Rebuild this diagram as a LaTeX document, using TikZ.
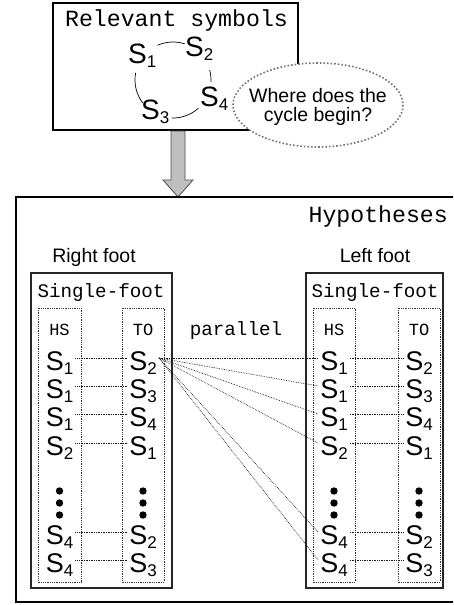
\documentclass[tikz,border=0pt]{standalone}
\usepackage{fontspec}
\setmainfont{Liberation Sans}
\setmonofont{Liberation Mono}
\newcommand\Sn[1]{S\raisebox{-4pt}{\fontsize{17}{17}\selectfont#1}}
\begin{document}
\begin{tikzpicture}[x=1pt,y=-1pt]
\tikzset{
  frame/.style={draw=black, line width=1.8pt},
  footbox/.style={draw=black!85, line width=1.2pt},
  column/.style={draw=black!80, densely dotted, line width=0.8pt},
  link/.style={draw=black!90, densely dotted, line width=0.7pt},
  sym/.style={font=\fontsize{27}{27}\selectfont, inner sep=2pt, anchor=base},
  topsym/.style={font=\fontsize{28}{28}\selectfont, inner sep=0pt, anchor=base west},
  monobig/.style={font=\ttfamily\fontsize{23.2}{24}\selectfont, inner sep=0pt, anchor=base},
  monomid/.style={font=\ttfamily\fontsize{19.2}{20}\selectfont, inner sep=0pt, anchor=base},
  monosmall/.style={font=\ttfamily\fontsize{17}{18}\selectfont, inner sep=0pt, anchor=base},
  sanslabel/.style={font=\fontsize{19.5}{20}\selectfont, inner sep=0pt, anchor=base},
  bigarrow/.style={fill=black!25, draw=black!70, line width=0.8pt},
  bubble/.style={draw=black!55, fill=white, dotted, line width=1.6pt},
  cycle arc/.style={draw=black, line width=0.7pt},
  bulletdot/.style={fill=black}
}
\useasboundingbox (0,0) rectangle (453,605);
\clip (0,0) rectangle (453,605);

% top box
\draw[frame] (53,3) rectangle (298,130);
\node[monobig] (relev) at (176.5,27) {Relevant symbols};
\node[topsym] (c1) at (128,63) {\Sn{1}};
\node[topsym] (c2) at (185,56) {\Sn{2}};
\node[topsym] (c4) at (200,106) {\Sn{4}};
\node[topsym] (c3) at (141,119) {\Sn{3}};
\coordinate (cc) at (173,80);
\draw[cycle arc] (cc) ++(-114:38) arc[start angle=-114, end angle=-72, radius=38];
\draw[cycle arc] (cc) ++(-15:38) arc[start angle=-15, end angle=3, radius=38];
\draw[cycle arc] (cc) ++(48:38) arc[start angle=48, end angle=92, radius=38];
\draw[cycle arc] (cc) ++(-169:38) arc[start angle=-169, end angle=-217, radius=38];

% bubble
\draw[bubble] (318,105) ellipse[x radius=85, y radius=42];
\node[sanslabel, align=center, anchor=center] (q) at (318,107) {Where does the\\[-1pt]cycle begin?};

% arrow
\draw[bigarrow] (171,131) -- (171,180) -- (163,180) -- (178,197) -- (193,180) -- (185,180) -- (185,131) -- cycle;

% hypotheses box
\draw[frame] (16,197) rectangle (470,602);
\node[monobig, anchor=base east] (hyp) at (448,222) {Hypotheses};
\node[sanslabel] (rf) at (94,262) {Right foot};
\node[sanslabel] (lf) at (375,262) {Left foot};

% foot boxes
\draw[footbox] (31,273) rectangle (172,588);
\draw[footbox] (306,273) rectangle (443,588);
\node[monomid] (sf1) at (101,297) {Single-foot};
\node[monomid] (sf2) at (375,297) {Single-foot};
\node[monomid] (par) at (236,335) {parallel};

% columns
\draw[column] (38,308) rectangle (81,582);
\draw[column] (122,308) rectangle (164,582);
\draw[column] (313,308) rectangle (355,582);
\draw[column] (398,308) rectangle (440,582);
\node[monosmall] (hs1) at (59.5,335) {HS};
\node[monosmall] (to1) at (143,335) {TO};
\node[monosmall] (hs2) at (334,335) {HS};
\node[monosmall] (to2) at (419,335) {TO};

% rows
\foreach \i/\y/\a/\b in {1/370/1/2, 2/398/1/3, 3/426/1/4, 4/455/2/1, 5/544/4/2, 6/572/4/3} {
  \node[sym] (rh\i) at (59.5,\y) {\Sn{\a}};
  \node[sym] (rt\i) at (143,\y) {\Sn{\b}};
  \node[sym] (lh\i) at (334,\y) {\Sn{\a}};
  \node[sym] (lt\i) at (419,\y) {\Sn{\b}};
}
\foreach \i in {1,...,6} {
  \draw[link] ([yshift=12pt]rh\i.base east) -- ([yshift=12pt]rt\i.base west);
  \draw[link] ([yshift=12pt]lh\i.base east) -- ([yshift=12pt]lt\i.base west);
  \draw[link] ([yshift=12pt]rt1.base east) -- ([yshift=12pt]lh\i.base west);
}

% vertical ellipsis dots
\foreach \x in {59.5,143,334,419} {
  \foreach \y in {491,503,515} {
    \fill[bulletdot] (\x,\y) circle[radius=3.7];
  }
}
\end{tikzpicture}
\end{document}
